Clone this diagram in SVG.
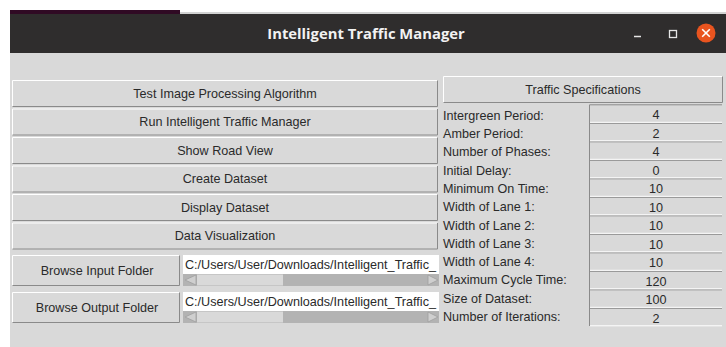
<svg xmlns="http://www.w3.org/2000/svg" width="726" height="347" viewBox="0 0 726 347">
  <style>
    .txt { font-family: "Liberation Sans", Arial, sans-serif; font-size: 12.6px; fill: #2a2a2a; }
    .mid { text-anchor: middle; }
    .btn { fill: #d9d9d9; }
    .hl { stroke: #ffffff; stroke-width: 1; fill: none; }
    .sh { stroke: #8a8a8a; stroke-width: 1; fill: none; }
    .trough { fill: #b3b3b3; }
    .slider { fill: #d9d9d9; }
    .arrow { fill: #cfcfcf; stroke: #a0a0a0; stroke-width: 0.8; }
  </style>

  <!-- desktop behind the window -->
  <rect x="0" y="0" width="726" height="347" fill="#ffffff"/>
  <rect x="10" y="10" width="170" height="5" fill="#300a24"/>
  <rect x="180" y="12" width="546" height="3" fill="#d2d2d2"/>

  <!-- window frame -->
  <g id="titlebar">
    <rect x="10" y="14" width="716" height="39" fill="#2f2d2d"/>
    <text x="366" y="39" text-anchor="middle" font-family="'Open Sans', 'DejaVu Sans', sans-serif" font-weight="bold" font-size="14.8" fill="#f2f2f2">Intelligent Traffic Manager</text>
    <line x1="634" y1="36.5" x2="641" y2="36.5" stroke="#e6e6e6" stroke-width="1.5"/>
    <rect x="669.5" y="30.5" width="7" height="7" fill="none" stroke="#e6e6e6" stroke-width="1.3"/>
    <circle cx="706" cy="33" r="9.5" fill="#e9541f"/>
    <path d="M702.2 29.2 L709.8 36.8 M709.8 29.2 L702.2 36.8" stroke="#ffffff" stroke-width="1.6"/>
  </g>
  <rect id="body" x="10" y="53" width="716" height="294" fill="#d9d9d9"/>

  <!-- action buttons -->
  <g id="btn-test">
    <rect class="btn" x="12" y="80" width="426" height="27"/>
    <path class="hl" d="M12.5 106.5 V80.5 H437.5"/><path class="sh" d="M12.5 106.5 H437.5 V80.5"/>
    <text class="txt mid" x="225" y="97.5">Test Image Processing Algorithm</text>
  </g>
  <g id="btn-run">
    <rect class="btn" x="12" y="108.5" width="426" height="27"/>
    <path class="hl" d="M12.5 135 V109 H437.5"/><path class="sh" d="M12.5 135 H437.5 V109"/>
    <text class="txt mid" x="225" y="126">Run Intelligent Traffic Manager</text>
  </g>
  <g id="btn-road">
    <rect class="btn" x="12" y="137" width="426" height="27"/>
    <path class="hl" d="M12.5 163.5 V137.5 H437.5"/><path class="sh" d="M12.5 163.5 H437.5 V137.5"/>
    <text class="txt mid" x="225" y="154.5">Show Road View</text>
  </g>
  <g id="btn-create">
    <rect class="btn" x="12" y="165.5" width="426" height="27"/>
    <path class="hl" d="M12.5 192 V166 H437.5"/><path class="sh" d="M12.5 192 H437.5 V166"/>
    <text class="txt mid" x="225" y="183">Create Dataset</text>
  </g>
  <g id="btn-display">
    <rect class="btn" x="12" y="194" width="426" height="27"/>
    <path class="hl" d="M12.5 220.5 V194.5 H437.5"/><path class="sh" d="M12.5 220.5 H437.5 V194.5"/>
    <text class="txt mid" x="225" y="211.5">Display Dataset</text>
  </g>
  <g id="btn-visual">
    <rect class="btn" x="12" y="222.5" width="426" height="27"/>
    <path class="hl" d="M12.5 249 V223 H437.5"/><path class="sh" d="M12.5 249 H437.5 V223"/>
    <text class="txt mid" x="225" y="240">Data Visualization</text>
  </g>

  <!-- folder pickers -->
  <g id="btn-input">
    <rect class="btn" x="12" y="255" width="168" height="31"/>
    <path class="hl" d="M12.5 285.5 V255.5 H179.5"/><path class="sh" d="M12.5 285.5 H179.5 V255.5"/>
    <text class="txt mid" x="97" y="274.5">Browse Input Folder</text>
  </g>
  <g id="entry-input">
    <rect x="183" y="255" width="256" height="19" fill="#ffffff"/>
    <text class="txt" x="185" y="269" textLength="251" lengthAdjust="spacingAndGlyphs">C:/Users/User/Downloads/Intelligent_Traffic_</text>
    <rect class="trough" x="183" y="274" width="256" height="12"/>
    <rect class="slider" x="197" y="274.5" width="86" height="11"/>
    <path class="arrow" d="M185 280 L196 275 V285 Z"/>
    <path class="arrow" d="M438 280 L428 275 V285 Z"/>
  </g>
  <g id="btn-output">
    <rect class="btn" x="12" y="292" width="168" height="31"/>
    <path class="hl" d="M12.5 322.5 V292.5 H179.5"/><path class="sh" d="M12.5 322.5 H179.5 V292.5"/>
    <text class="txt mid" x="97" y="311.5">Browse Output Folder</text>
  </g>
  <g id="entry-output">
    <rect x="183" y="292" width="256" height="19" fill="#ffffff"/>
    <text class="txt" x="185" y="306" textLength="251" lengthAdjust="spacingAndGlyphs">C:/Users/User/Downloads/Intelligent_Traffic_</text>
    <rect class="trough" x="183" y="311" width="256" height="12"/>
    <rect class="slider" x="197" y="311.5" width="86" height="11"/>
    <path class="arrow" d="M185 317 L196 312 V322 Z"/>
    <path class="arrow" d="M438 317 L428 312 V322 Z"/>
  </g>

  <!-- traffic specification panel -->
  <g id="spec-header">
    <rect class="btn" x="443" y="76" width="280" height="27"/>
    <path class="hl" d="M443.5 102.5 V76.5 H722.5"/><path class="sh" d="M443.5 102.5 H722.5 V76.5"/>
    <text class="txt mid" x="583" y="94">Traffic Specifications</text>
  </g>

  <g id="spec-labels" class="txt">
    <text x="443" y="119.5">Intergreen Period:</text>
    <text x="443" y="137.5">Amber Period:</text>
    <text x="443" y="156">Number of Phases:</text>
    <text x="443" y="174.5">Initial Delay:</text>
    <text x="443" y="192.5">Minimum On Time:</text>
    <text x="443" y="211">Width of Lane 1:</text>
    <text x="443" y="229.5">Width of Lane 2:</text>
    <text x="443" y="247.5">Width of Lane 3:</text>
    <text x="443" y="266">Width of Lane 4:</text>
    <text x="443" y="284">Maximum Cycle Time:</text>
    <text x="443" y="302.5">Size of Dataset:</text>
    <text x="443" y="321">Number of Iterations:</text>
  </g>

  <g id="spec-values">
    <rect x="589" y="104.3" width="133" height="222" fill="#d9d9d9"/>
    <!-- sunken cell edges -->
    <path class="sh" d="M589.5 326 V104.8 M589.5 104.8 H722 M589.5 123.3 H722 M589.5 141.8 H722 M589.5 160.3 H722 M589.5 178.8 H722 M589.5 197.3 H722 M589.5 215.8 H722 M589.5 234.3 H722 M589.5 252.8 H722 M589.5 271.3 H722 M589.5 289.8 H722 M589.5 308.3 H722"/>
    <path class="hl" d="M590 122.3 H722 M590 140.8 H722 M590 159.3 H722 M590 177.8 H722 M590 196.3 H722 M590 214.8 H722 M590 233.3 H722 M590 251.8 H722 M590 270.3 H722 M590 288.8 H722 M590 307.3 H722 M590 325.8 H722"/>
    <g class="txt mid" fill="#333">
      <text x="656" y="119">4</text>
      <text x="656" y="137.5">2</text>
      <text x="656" y="156">4</text>
      <text x="656" y="174.5">0</text>
      <text x="656" y="193">10</text>
      <text x="656" y="211.5">10</text>
      <text x="656" y="230">10</text>
      <text x="656" y="248.5">10</text>
      <text x="656" y="267">10</text>
      <text x="656" y="285.5">120</text>
      <text x="656" y="304">100</text>
      <text x="656" y="322.5">2</text>
    </g>
  </g>
</svg>
